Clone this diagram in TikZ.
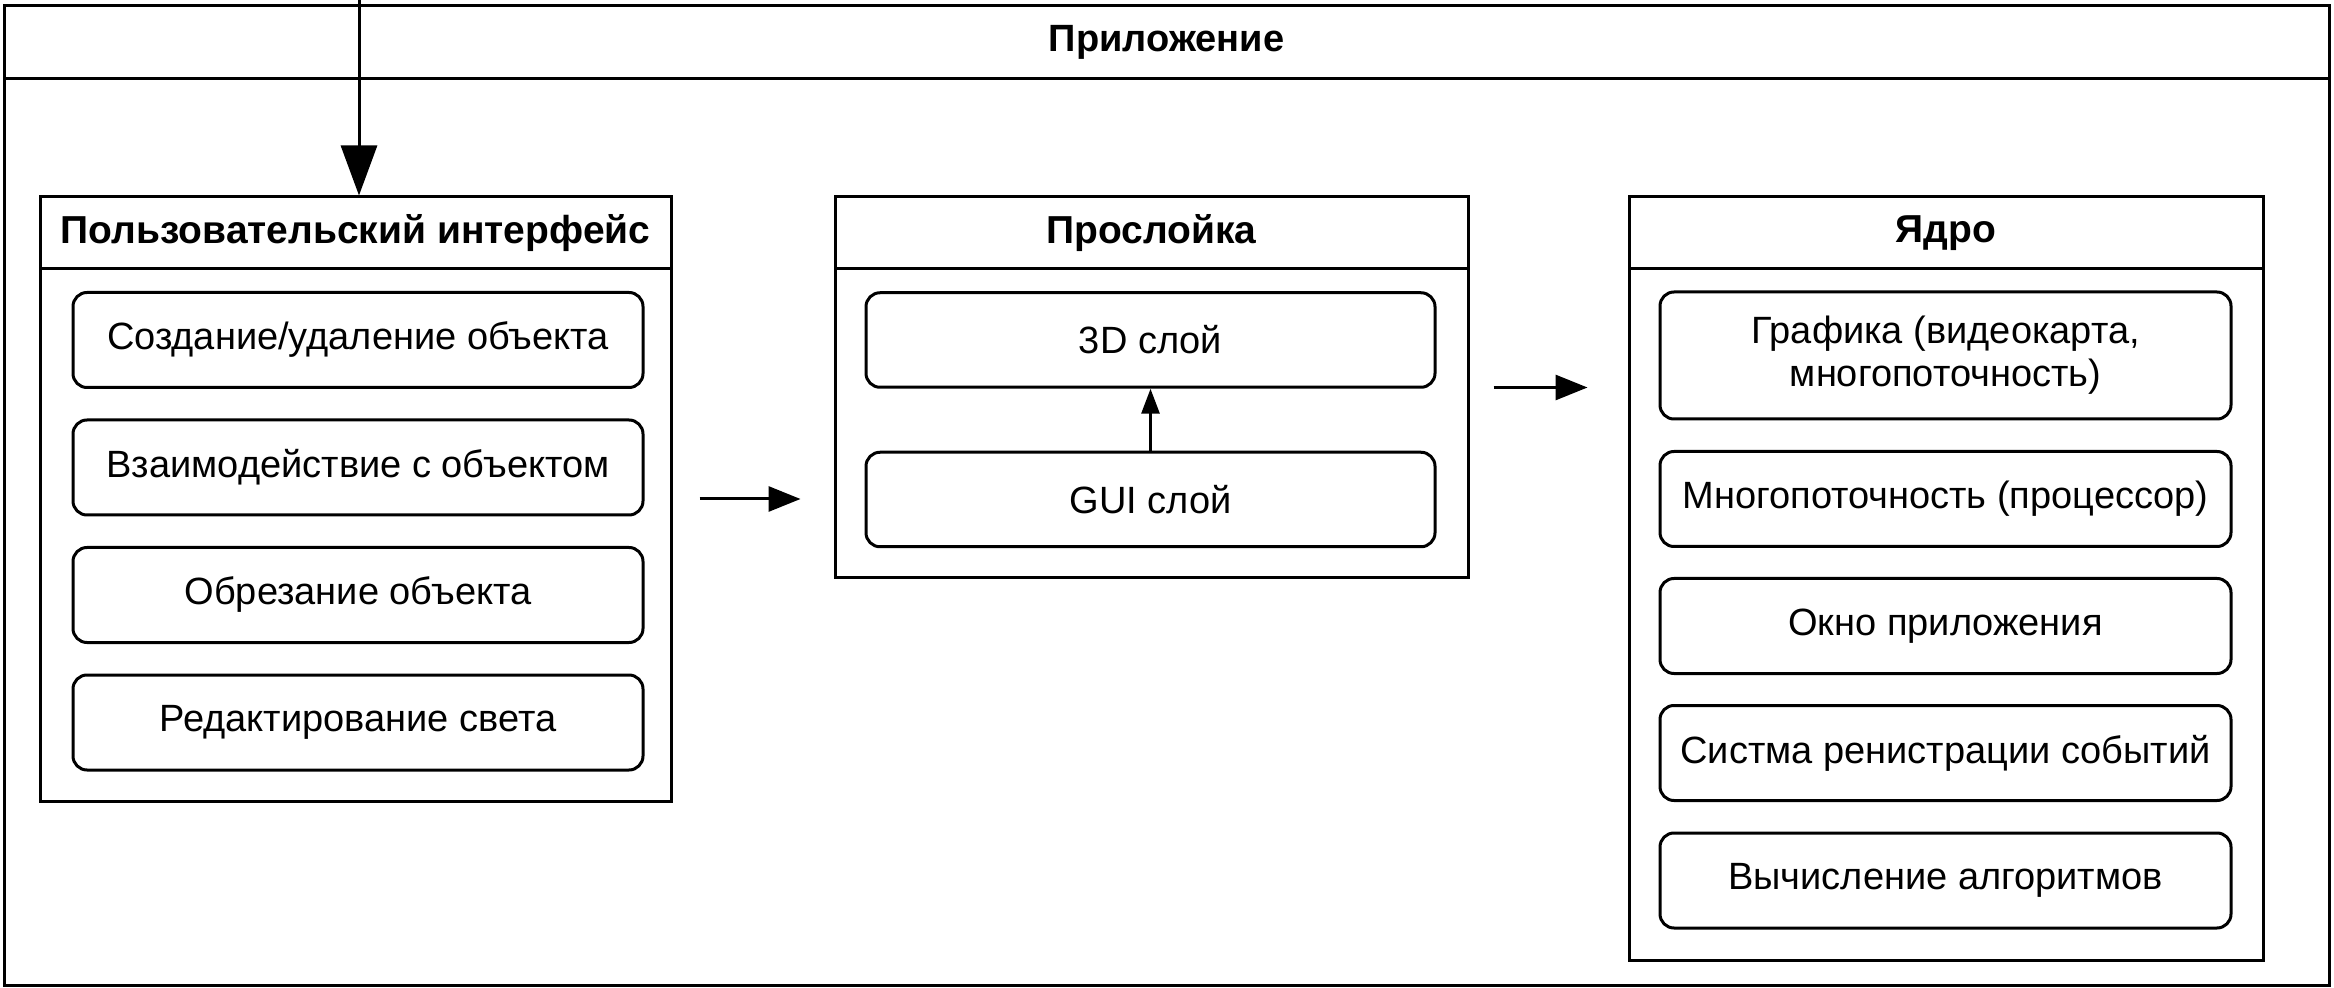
\documentclass[tikz,border=0pt]{standalone}
\usepackage{fontspec}
\setmainfont{Liberation Sans}
\usetikzlibrary{arrows.meta}
\begin{document}
\begin{tikzpicture}[x=0.5pt,y=-0.5pt,
  frame/.style={draw=black, line width=1.5pt, rectangle, inner sep=0pt},
  hdr/.style={frame, font=\fontsize{19.5pt}{23pt}\selectfont\bfseries},
  item/.style={draw=black, line width=1.5pt, rounded corners=7pt, inner sep=0pt, align=center, font=\fontsize{19pt}{21.5pt}\selectfont},
  arr/.style={line width=1.5pt, -{Triangle[length=16pt,width=12.5pt]}},
  smallarr/.style={line width=1.5pt, -{Triangle[length=12.5pt,width=9pt]}},
  bigarr/.style={line width=1.5pt, -{Triangle[length=25pt,width=18pt]}},
]
\useasboundingbox (0,0) rectangle (2334,988);
\fill[white] (0,0) rectangle (2334,988);

% outer frame
\node[frame, minimum width=1162.5pt, minimum height=489.5pt] (app) at (1166.5,495.5) {};
\node[hdr, font=\fontsize{19pt}{23pt}\selectfont\bfseries, minimum width=1162.5pt, minimum height=36.5pt] (apph) at (1166.5,42.5) {Приложение};

% left box
\node[frame, minimum width=315.5pt, minimum height=302pt] (lb) at (355.5,499) {};
\node[hdr, minimum width=315.5pt, minimum height=36pt] (lbh) at (355.5,233) {Пользовательский интерфейс};
\node[item, minimum width=285pt, minimum height=47.5pt] (l1) at (358,340) {Создание/удаление объекта};
\node[item, minimum width=285pt, minimum height=47.5pt] (l2) at (358,467.5) {Взаимодействие с объектом};
\node[item, minimum width=285pt, minimum height=47.5pt] (l3) at (358,595) {Обрезание объекта};
\node[item, minimum width=285pt, minimum height=47.5pt] (l4) at (358,722.5) {Редактирование света};

% middle box
\node[frame, minimum width=316.5pt, minimum height=190.5pt] (mb) at (1151.5,387.5) {};
\node[hdr, minimum width=316.5pt, minimum height=36pt] (mbh) at (1151.5,233) {Прослойка};
\node[item, minimum width=284.5pt, minimum height=47.25pt] (m1) at (1150.5,340) {3D слой};
\node[item, minimum width=284.5pt, minimum height=47.25pt] (m2) at (1150.5,499.5) {GUI слой};

% right box
\node[frame, minimum width=317pt, minimum height=381.5pt] (rb) at (1946,578.5) {};
\node[hdr, minimum width=317pt, minimum height=36pt] (rbh) at (1946,233) {Ядро};
\node[item, minimum width=285.5pt, minimum height=63.5pt] (r1) at (1945.5,355.5) {Графика (видеокарта,\\многопоточность)};
\node[item, minimum width=285.5pt, minimum height=47.5pt] (r2) at (1945.5,499) {Многопоточность (процессор)};
\node[item, minimum width=285.5pt, minimum height=47.5pt] (r3) at (1945.5,626) {Окно приложения};
\node[item, minimum width=285.5pt, minimum height=47.5pt] (r4) at (1945.5,753) {Систма ренистрации событий};
\node[item, minimum width=285.5pt, minimum height=47.5pt] (r5) at (1945.5,880.5) {Вычисление алгоритмов};

% connectors
\coordinate (in) at (359,0);
\draw[bigarr] (in) -- (in |- lb.north);
\draw[arr, shorten <=13.5pt, shorten >=16.5pt] (lb.east) -- (lb.east -| mb.west);
\draw[arr, shorten <=12pt, shorten >=20pt] (mb.east) -- (mb.east -| rb.west);
\draw[smallarr] (m2.north) -- (m1.south);
\end{tikzpicture}
\end{document}
